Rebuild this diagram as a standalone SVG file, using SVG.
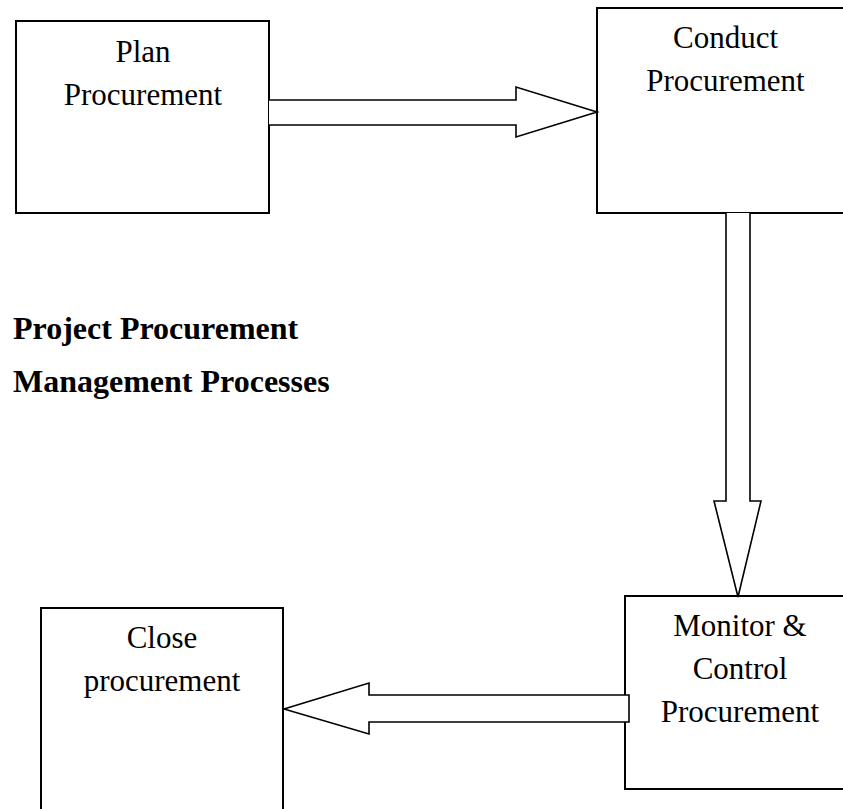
<svg xmlns="http://www.w3.org/2000/svg" width="843" height="809" viewBox="0 0 843 809">
  <style>
    .box { fill: #ffffff; stroke: #000000; stroke-width: 2; }
    .arrow { fill: #ffffff; stroke: #000000; stroke-width: 1.6; stroke-linejoin: miter; }
    .lbl { font-family: "Liberation Serif", "Times New Roman", serif; font-size: 31px; fill: #000000; text-anchor: middle; }
    .title { font-family: "Liberation Serif", "Times New Roman", serif; font-size: 32px; font-weight: bold; fill: #000000; }
  </style>
  <rect x="0" y="0" width="843" height="809" fill="#ffffff"/>
  <g id="plan">
    <rect class="box" x="16" y="21" width="253" height="192"/>
    <text class="lbl" x="143" y="62">Plan</text>
    <text class="lbl" x="143" y="105">Procurement</text>
  </g>
  <g id="conduct">
    <rect class="box" x="597" y="8" width="257" height="205"/>
    <text class="lbl" x="725.5" y="48">Conduct</text>
    <text class="lbl" x="725.5" y="91">Procurement</text>
  </g>
  <g id="monitor">
    <rect class="box" x="625" y="596" width="230" height="193"/>
    <text class="lbl" x="740" y="636">Monitor &amp;</text>
    <text class="lbl" x="740" y="679">Control</text>
    <text class="lbl" x="740" y="722">Procurement</text>
  </g>
  <g id="close">
    <rect class="box" x="41" y="608" width="242" height="230"/>
    <text class="lbl" x="162" y="648">Close</text>
    <text class="lbl" x="162" y="691">procurement</text>
  </g>
  <g id="title">
    <text class="title" x="13" y="339">Project Procurement</text>
    <text class="title" x="13" y="392">Management Processes</text>
  </g>
  <g id="connectors">
    <path class="arrow" d="M269,100 L516,100 L516,87 L597,112 L516,137 L516,125 L269,125"/>
    <path class="arrow" d="M726,213 L726,501 L714,501 L738,597 L761,501 L750,501 L750,213"/>
    <path class="arrow" d="M629,695 L369,695 L369,683 L284,709 L369,734 L369,722 L629,722 Z"/>
  </g>
</svg>
